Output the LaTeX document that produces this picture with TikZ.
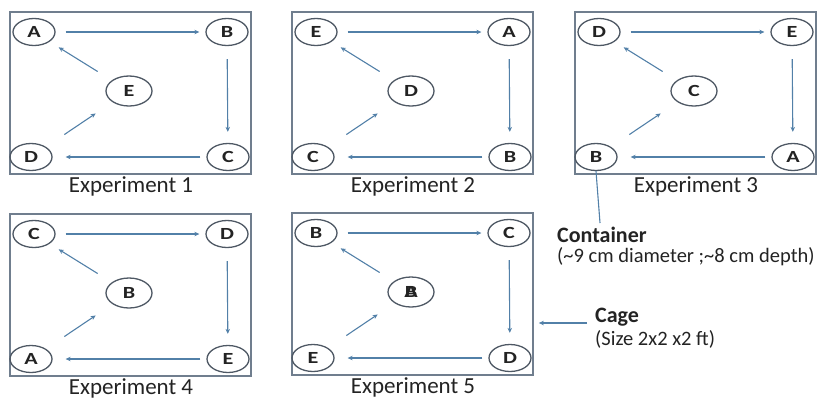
\documentclass[tikz,border=0pt]{standalone}
\usepackage{fontspec}
\setmainfont{Carlito}
\newfontfamily\potfont[FakeStretch=1.3]{Carlito}
\usetikzlibrary{shapes.geometric,arrows.meta,calc}
\definecolor{cagecol}{RGB}{112,126,142}
\definecolor{potcol}{RGB}{78,88,100}
\definecolor{arrcol}{RGB}{82,128,168}
\definecolor{txtcol}{RGB}{35,35,35}
\tikzset{
  cage/.style={draw=cagecol,line width=1.7pt,minimum width=241pt,minimum height=162pt,inner sep=0pt},
  pot/.style={ellipse,draw=potcol,line width=1.3pt,minimum width=42pt,minimum height=27pt,inner sep=0pt,font=\potfont\fontsize{17}{17}\selectfont\bfseries,text=txtcol},
  midpot/.style={pot,minimum width=46pt,minimum height=30pt},
  arr/.style={draw=arrcol,line width=1.1pt,-{Stealth[length=5pt,width=4.5pt]}},
  lbl/.style={font=\fontsize{23}{23}\selectfont,text=txtcol,inner sep=0pt},
  note/.style={font=\fontsize{20.5}{20.5}\selectfont,text=txtcol,inner sep=0pt,anchor=west},
  notehead/.style={note,font=\fontsize{22}{22}\selectfont\bfseries},
}
\newcommand\expe[9]{%
\begin{scope}[shift={(#2,#3)}]
\node[cage] (#1box) at (120.5,81) {};
\node[lbl] (#1lbl) at (121,174) {Experiment #9};
\node[pot] (#1tl) at (24,20) {#4};
\node[pot] (#1tr) at (217,20) {#5};
\node[pot] (#1br) at (218,145) {#6};
\node[pot] (#1bl) at (21,145) {#7};
\node[midpot] (#1c) at (119,79) {#8};
\draw[arr,shorten <=10pt,shorten >=6pt] (#1tl) -- (#1tr);
\draw[arr,shorten <=13pt,shorten >=11pt] (#1tr) -- (#1br);
\draw[arr,shorten <=6pt,shorten >=13pt] (#1br) -- (#1bl);
\draw[arr] ($(#1bl)!0.34!(#1c)$) -- ($(#1bl)!0.66!(#1c)$);
\draw[arr] ($(#1c)!0.33!(#1tl)$) -- ($(#1c)!0.74!(#1tl)$);
\end{scope}}
\begin{document}
\begin{tikzpicture}[x=1pt,y=-1pt]
\useasboundingbox (0,0) rectangle (821,399);
\expe{pa}{10}{12}{A}{B}{C}{D}{E}{1}
\expe{pb}{292}{12}{E}{A}{B}{C}{D}{2}
\expe{pc}{575}{12}{D}{E}{A}{B}{C}{3}
\expe{pd}{10}{214}{C}{D}{E}{A}{B}{4}
\expe{pe}{292}{213}{B}{C}{D}{E}{\makebox[0pt]{B}\makebox[0pt]{A}}{5}
% annotations
\node[notehead] (cont) at (557,235) {Container};
\node[note] (contd) at (557,257) {(\textasciitilde9 cm diameter ;\textasciitilde8 cm depth)};
\coordinate (contend) at (600,223);
\draw[draw=arrcol,line width=1.1pt] (pcbl.south) -- (contend);
\node[notehead] (cage) at (595,317) {Cage};
\node[note] (cagesz) at (595,339) {(Size 2x2 x2 ft)};
\coordinate (cagestart) at (587,323);
\draw[arr] (cagestart) -- ([xshift=5pt]pebox.east |- cagestart);
\end{tikzpicture}
\end{document}
